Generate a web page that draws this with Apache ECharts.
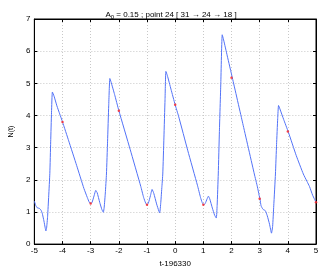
<!DOCTYPE html>
<html><head><meta charset="utf-8">
<script src="https://cdn.jsdelivr.net/npm/echarts@6/dist/echarts.min.js"></script>
<style>html,body{margin:0;padding:0;background:#fff}#c{width:322px;height:273px}</style>
</head><body><div id="c"></div>
<script>
const curveT = [-5.00,-4.95,-4.90,-4.82,-4.76,-4.72,-4.66,-4.61,-4.59,-4.565,-4.53,-4.49,-4.45,-4.42,-4.39,-4.36,-4.30,-4.20,-4.10,-4.00,-3.78,-3.50,-3.24,-3.12,-3.05,-3.00,-2.95,-2.88,-2.82,-2.77,-2.68,-2.60,-2.55,-2.52,-2.48,-2.44,-2.40,-2.36,-2.32,-2.28,-2.15,-2.00,-1.60,-1.22,-1.12,-1.05,-1.00,-0.95,-0.88,-0.82,-0.76,-0.66,-0.58,-0.55,-0.51,-0.47,-0.44,-0.40,-0.36,-0.33,-0.28,-0.15,0.00,0.12,0.45,0.79,0.90,0.96,1.02,1.07,1.13,1.18,1.23,1.32,1.40,1.46,1.49,1.53,1.57,1.62,1.67,1.72,1.85,2.03,2.40,2.81,2.92,2.98,3.01,3.05,3.12,3.20,3.27,3.35,3.42,3.46,3.50,3.56,3.60,3.64,3.67,3.72,3.85,4.02,4.30,4.55,4.68,4.77,4.88,4.94,5.00];
const curveN = [1.34,1.20,1.13,1.11,1.05,0.96,0.72,0.48,0.41,0.50,0.85,1.50,2.20,3.18,4.10,4.73,4.60,4.30,4.05,3.80,3.21,2.45,1.73,1.45,1.30,1.26,1.30,1.50,1.67,1.60,1.30,1.07,0.99,1.15,1.59,2.18,3.20,4.30,5.15,5.05,4.65,4.15,2.95,1.79,1.45,1.28,1.22,1.28,1.50,1.70,1.58,1.25,1.03,0.97,1.30,1.80,2.18,3.30,4.50,5.37,5.25,4.82,4.33,3.98,2.90,1.83,1.45,1.29,1.22,1.27,1.40,1.49,1.40,1.12,0.90,0.81,1.20,2.18,3.50,5.00,6.51,6.35,5.85,5.17,3.75,2.18,1.78,1.52,1.41,1.19,1.08,1.04,0.88,0.62,0.34,0.55,1.19,2.18,3.10,3.90,4.31,4.20,3.88,3.48,2.75,2.18,1.95,1.79,1.52,1.41,1.30];
const markT = [-4,-3,-2,-1,0,1,2,3,4,5];
const markN = [3.80,1.26,4.15,1.22,4.33,1.22,5.17,1.41,3.50,1.30];
const xTicks = [-5,-4,-3,-2,-1,0,1,2,3,4,5];
const yTicks = [0,1,2,3,4,5,6,7];

const F = 'Liberation Sans, Arial, sans-serif';
const chart = echarts.init(document.getElementById('c'), null, {renderer:'canvas'});
const gridLine = {show:true, lineStyle:{color:'#c8c8c8', type:[1,2], width:1}};
chart.setOption({
  animation:false,
  title:{
    text:'{a|A}{s|0}{a| = 0.15 ; point 24 [ 31 \u2192 24 \u2192 18 ]}',
    left:166, top:4, textAlign:'center',
    textStyle:{fontWeight:'normal',rich:{
      a:{fontFamily:F,fontSize:8,color:'#000',fontWeight:'normal'},
      s:{fontFamily:F,fontSize:6,color:'#000',fontWeight:'normal',verticalAlign:'bottom',padding:[5,0,0,0]}
    }}
  },
  grid:{left:18, right:6, top:19, bottom:20, show:true, borderColor:'#000', borderWidth:1},
  xAxis:[{
    type:'value', min:-5, max:5, interval:1,
    name:'t-196330', nameLocation:'middle', nameGap:11,
    nameTextStyle:{fontFamily:F,fontSize:8,color:'#000'},
    axisLine:{show:true,onZero:false,lineStyle:{color:'#000',width:1}},
    axisTick:{show:true,inside:true,length:3,lineStyle:{color:'#000'}},
    axisLabel:{fontFamily:F,fontSize:8,color:'#000',margin:3,formatter:v=>String(v)},
    splitLine:gridLine
  },{
    type:'value', min:-5, max:5, interval:1, position:'top',
    axisLine:{show:true,onZero:false,lineStyle:{color:'#000'}},
    axisTick:{show:true,inside:true,length:3,lineStyle:{color:'#000'}},
    axisLabel:{show:false}, splitLine:{show:false}
  }],
  yAxis:[{
    type:'value', min:0, max:7, interval:1,
    name:'N(t)', nameLocation:'middle', nameGap:10, nameRotate:90,
    nameTextStyle:{fontFamily:F,fontSize:7,color:'#000'},
    axisLine:{show:true,onZero:false,lineStyle:{color:'#000',width:1}},
    axisTick:{show:true,inside:true,length:3,lineStyle:{color:'#000'}},
    axisLabel:{fontFamily:F,fontSize:8,color:'#000',margin:4},
    splitLine:gridLine
  },{
    type:'value', min:0, max:7, interval:1, position:'right',
    axisLine:{show:true,onZero:false,lineStyle:{color:'#000'}},
    axisTick:{show:true,inside:true,length:3,lineStyle:{color:'#000'}},
    axisLabel:{show:false}, splitLine:{show:false}
  }],
  series:[{
    type:'line', xAxisIndex:0, yAxisIndex:0,
    data:curveT.map((t,i)=>[t,curveN[i]]),
    showSymbol:false, smooth:0.15,
    lineStyle:{color:'#5272f7', width:1},
    z:2
  },{
    type:'scatter', xAxisIndex:0, yAxisIndex:0,
    data:markT.map((t,i)=>[t,markN[i]]),
    symbol:'circle', symbolSize:2.5,
    itemStyle:{color:'#ff2020'},
    z:3
  }]
});
</script></body></html>
